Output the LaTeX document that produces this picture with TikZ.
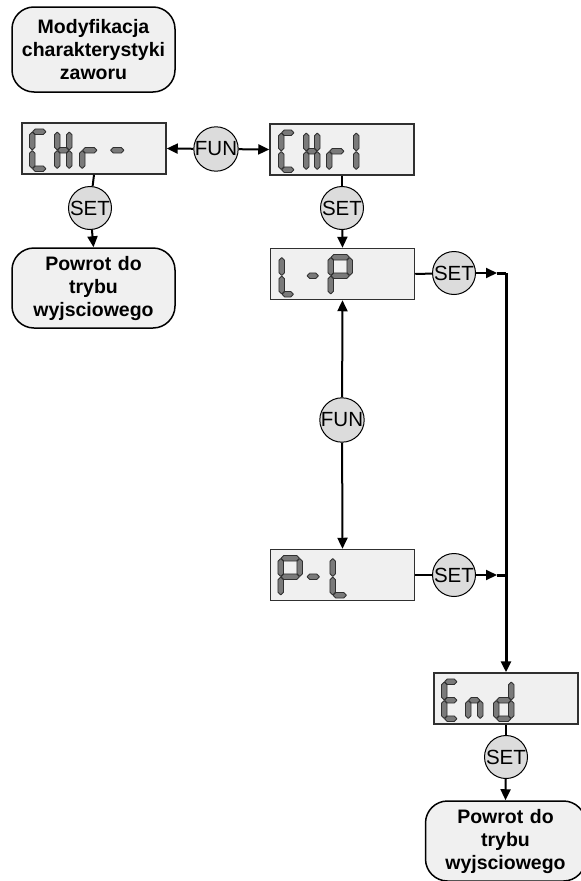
\documentclass[tikz,border=0pt]{standalone}
\usepackage{fontspec}
\setmainfont{Liberation Sans}
\usetikzlibrary{arrows.meta}
\definecolor{boxfill}{HTML}{F0F0F0}
\definecolor{btnfill}{HTML}{DCDCDC}
\definecolor{segfill}{HTML}{7A7A7A}
\definecolor{segline}{HTML}{303030}
\newcommand{\lcdhseg}[3]{%
  \filldraw[segstyle] (#1+0.3,#3) -- (#1+3.1,#3-2.8) -- (#2-3.1,#3-2.8) -- (#2-0.3,#3) -- (#2-3.1,#3+2.8) -- (#1+3.1,#3+2.8) -- cycle;}
\newcommand{\lcdvseg}[3]{%
  \filldraw[segstyle] (#1,#2+0.3) -- (#1+2.8,#2+3.1) -- (#1+2.8,#3-3.1) -- (#1,#3-0.3) -- (#1-2.8,#3-3.1) -- (#1-2.8,#2+3.1) -- cycle;}
\def\lcdH{18.5}
\pgfkeys{/lcd/.is family,
  /lcd/a/.code={\lcdhseg{\lcdX}{\lcdX+\lcdW}{\lcdY}},
  /lcd/b/.code={\lcdvseg{\lcdX+\lcdW}{\lcdY}{\lcdY+\lcdH}},
  /lcd/c/.code={\lcdvseg{\lcdX+\lcdW}{\lcdY+\lcdH}{\lcdY+2*\lcdH}},
  /lcd/d/.code={\lcdhseg{\lcdX}{\lcdX+\lcdW}{\lcdY+2*\lcdH}},
  /lcd/e/.code={\lcdvseg{\lcdX}{\lcdY+\lcdH}{\lcdY+2*\lcdH}},
  /lcd/f/.code={\lcdvseg{\lcdX}{\lcdY}{\lcdY+\lcdH}},
  /lcd/g/.code={\lcdhseg{\lcdX}{\lcdX+\lcdW}{\lcdY+\lcdH}}}
\newcommand{\lcddigit}[4]{\def\lcdX{#1}\def\lcdY{#2}\def\lcdW{#3}\pgfkeys{/lcd/.cd,#4}}
\begin{document}
\begin{tikzpicture}[x=1pt,y=-1pt,
  segstyle/.style={fill=segfill,draw=segline,line width=0.8pt,line join=round},
  roundbox/.style={draw=black,line width=1.5pt,fill=boxfill,rounded corners=22pt,
    minimum width=163pt,inner sep=0pt,align=center,text width=160pt,
    font=\fontsize{19.5}{23}\selectfont\bfseries},
  lcdbox/.style={draw=segline,line width=1.5pt,fill=boxfill,minimum width=144pt,
    minimum height=51pt,inner sep=0pt},
  btn/.style={circle,draw=black,line width=1pt,fill=btnfill,minimum size=43pt,
    inner sep=0pt,font=\fontsize{20.5}{22}\selectfont},
  conn/.style={line width=2pt},
  arr/.style={line width=2pt,-{Triangle[length=11pt,width=10pt]}},
  trunk/.style={line width=3pt}]
\useasboundingbox (0,0) rectangle (581,881);
% nodes
\node[roundbox,minimum height=85pt] (mod) at (93.5,49.5) {Modyfikacja\\charakterystyki\\zaworu};
\node[lcdbox] (chr) at (94,148.5) {};
\node[btn] (fun1) at (216,149) {FUN};
\node[lcdbox] (chr1) at (342,149.5) {};
\node[btn] (set1) at (90,208) {SET};
\node[roundbox,minimum height=80pt] (back1) at (93.5,288) {Powrot do\\trybu\\wyjsciowego};
\node[btn] (set2) at (342,208) {SET};
\node[lcdbox] (lp) at (342.5,274) {};
\node[btn] (set3) at (454,273) {SET};
\node[btn] (fun2) at (342,420) {FUN};
\node[lcdbox] (pl) at (342.5,575) {};
\node[btn] (set4) at (454,575) {SET};
\node[lcdbox] (end) at (506,698.5) {};
\node[btn] (set5) at (506,757) {SET};
\node[roundbox,minimum height=80pt,minimum width=157pt] (back2) at (505.5,841) {Powrot do\\trybu\\wyjsciowego};
\coordinate (j1) at (497,273);
\coordinate (k1) at (506,273);
\coordinate (j2) at (497,575);
\coordinate (k2) at (506,575);
% digits
\begin{scope}[shift={(chr.north west)}]
  \lcddigit{11}{9.5}{14}{a,d,e,f}
  \lcddigit{36}{9.5}{12}{b,c,e,f,g}
  \lcddigit{61}{9.5}{15}{e,g}
  \lcddigit{89}{9.5}{14}{g}
\end{scope}
\begin{scope}[shift={(chr1.north west)}]
  \lcddigit{12}{9.5}{13}{a,d,e,f}
  \lcddigit{37}{9.5}{11}{b,c,e,f,g}
  \lcddigit{60}{9.5}{15}{e,g}
  \lcddigit{74}{9.5}{13}{b,c}
\end{scope}
\begin{scope}[shift={(lp.north west)}]
  \lcddigit{12}{9.5}{12}{d,e,f}
  \lcddigit{37}{9.5}{12}{g}
  \lcddigit{61}{9.5}{19}{a,b,e,f,g}
\end{scope}
\begin{scope}[shift={(pl.north west)}]
  \lcddigit{11}{9.5}{19}{a,b,e,f,g}
  \lcddigit{37}{9.5}{13}{g}
  \lcddigit{63}{9.5}{14}{d,e,f}
\end{scope}
\begin{scope}[shift={(end.north west)}]
  \lcddigit{11}{9.5}{13}{a,d,e,f,g}
  \lcddigit{35}{9.5}{12}{c,e,g}
  \lcddigit{63}{9.5}{15}{b,c,d,e,g}
\end{scope}
% connectors
\draw[arr] (fun1) -- (chr.east);
\draw[arr] (fun1) -- (chr1.west);
\draw[conn] (chr.south) -- (set1);
\draw[arr] (set1) -- (back1.north);
\draw[conn] (chr1.south) -- (set2);
\draw[arr] (set2) -- (lp.north);
\draw[conn] (lp.east) -- (set3);
\draw[arr] (set3) -- (j1);
\draw[trunk] (j1) -- (k1);
\draw[trunk,-{Triangle[length=11pt,width=10pt]}] (k1) -- (end.north);
\draw[arr] (fun2) -- (lp.south);
\draw[arr] (fun2) -- (pl.north);
\draw[conn] (pl.east) -- (set4);
\draw[arr] (set4) -- (j2);
\draw[trunk] (j2) -- (k2);
\draw[conn] (end.south) -- (set5);
\draw[arr] (set5) -- (back2.north);
\end{tikzpicture}
\end{document}
